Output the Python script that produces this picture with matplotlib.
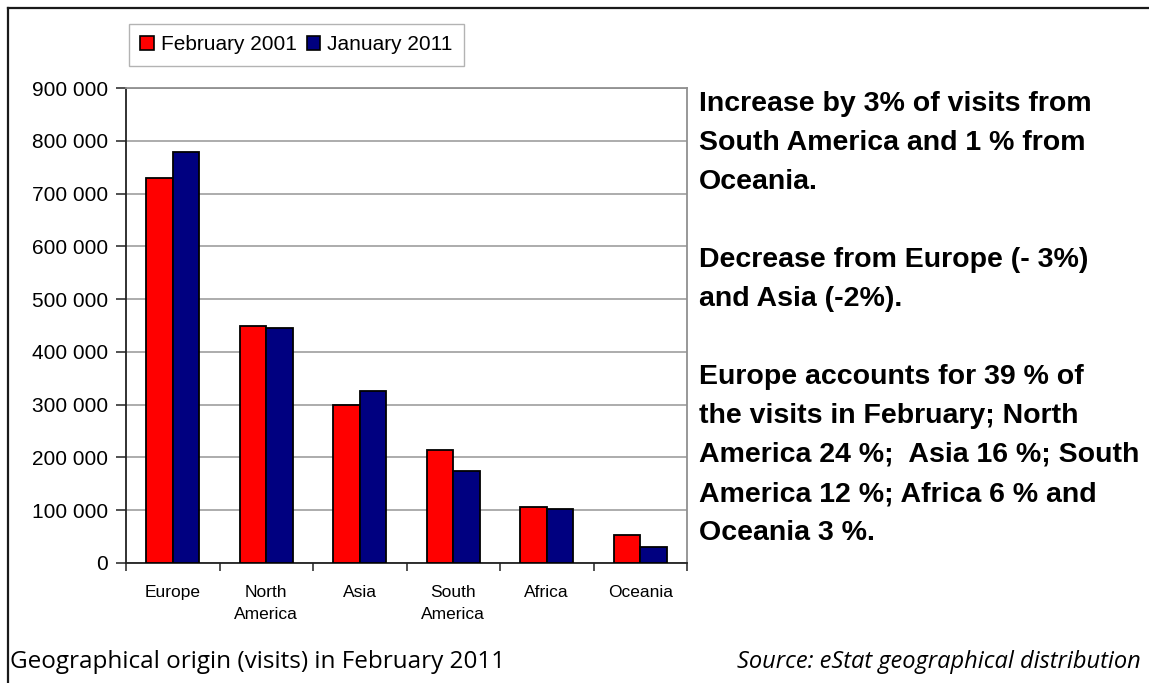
import matplotlib.pyplot as plt
import numpy as np
from matplotlib.lines import Line2D
from matplotlib.patches import Patch

regions = ["Europe", "North\nAmerica", "Asia", "South\nAmerica", "Africa", "Oceania"]
feb_2001 = [729000, 449000, 299000, 215000, 107000, 54000]
jan_2011 = [779000, 446000, 325000, 175000, 103000, 31000]
series_names = ["February 2001", "January 2011"]
series_colors = ["#ff0000", "#000080"]
y_ticks = [0, 100000, 200000, 300000, 400000, 500000, 600000, 700000, 800000, 900000]

notes = (
    "Increase by 3% of visits from\n"
    "South America and 1 % from\n"
    "Oceania.\n"
    "\n"
    "Decrease from Europe (- 3%)\n"
    "and Asia (-2%).\n"
    "\n"
    "Europe accounts for 39 % of\n"
    "the visits in February; North\n"
    "America 24 %;  Asia 16 %; South\n"
    "America 12 %; Africa 6 % and\n"
    "Oceania 3 %."
)
caption = "Geographical origin (visits) in February 2011"
source = "Source: eStat geographical distribution"

W, H = 1149, 683
fig = plt.figure(figsize=(W / 100, H / 100), dpi=100)
plt.rcParams["font.family"] = ["Liberation Sans", "DejaVu Sans"]

ax = fig.add_axes([126 / W, 1 - 563 / H, (687 - 126) / W, (563 - 88) / H])

x = np.arange(len(regions))
w = 1 / 3.5
ax.bar(x - w / 2, feb_2001, w, color=series_colors[0], edgecolor="black", linewidth=1.3, zorder=3)
ax.bar(x + w / 2, jan_2011, w, color=series_colors[1], edgecolor="black", linewidth=1.3, zorder=3)

ax.set_xlim(-0.5, len(regions) - 0.5)
ax.set_ylim(0, 900000)
ax.set_yticks(y_ticks)
ax.set_yticklabels([f"{v:,}".replace(",", " ") for v in y_ticks], fontsize=15)
ax.yaxis.grid(True, color="#a6a6a6", linewidth=1.3, zorder=0)
ax.set_axisbelow(True)

# category labels sit between the boundary ticks
ax.set_xticks(x)
ax.set_xticklabels(regions, fontsize=12.5, linespacing=1.6, va="top")
ax.tick_params(axis="x", length=0, pad=16)
ax.set_xticks(np.arange(len(regions) + 1) - 0.5, minor=True)
ax.tick_params(axis="x", which="minor", length=6, width=1.2, color="#333333")
ax.tick_params(axis="y", length=7, width=1.2, pad=6, color="#333333")

for side in ["top", "right"]:
    ax.spines[side].set_color("#909090")
    ax.spines[side].set_linewidth(1.3)
for side in ["left", "bottom"]:
    ax.spines[side].set_color("#222222")
    ax.spines[side].set_linewidth(1.3)

handles = [Patch(facecolor=c, edgecolor="black", linewidth=1.2) for c in series_colors]
fig.legend(handles, series_names, loc="upper left", bbox_to_anchor=(129 / W, 1 - 24 / H),
           ncol=2, fontsize=15, frameon=True, fancybox=False, edgecolor="#a0a0a0",
           handlelength=0.65, handleheight=0.65, handletextpad=0.35, columnspacing=0.45,
           borderpad=0.55, borderaxespad=0)

fig.text(699 / W, 1 - 91 / H, notes, fontsize=20.5, fontweight="bold", va="top", ha="left",
         linespacing=1.65)

fig.text(10 / W, 1 - 662 / H, caption, fontsize=17.5, family="Open Sans", va="center", ha="left")
fig.text(1141 / W, 1 - 662 / H, source, fontsize=17, family="Open Sans", style="italic",
         va="center", ha="right")

# outer frame: top and left edges only
fig.add_artist(Line2D([8 / W, 1], [1 - 8 / H, 1 - 8 / H], color="#1a1a1a", linewidth=1.6))
fig.add_artist(Line2D([8 / W, 8 / W], [0, 1 - 8 / H], color="#1a1a1a", linewidth=1.6))

fig.savefig("out.png", dpi=100)
